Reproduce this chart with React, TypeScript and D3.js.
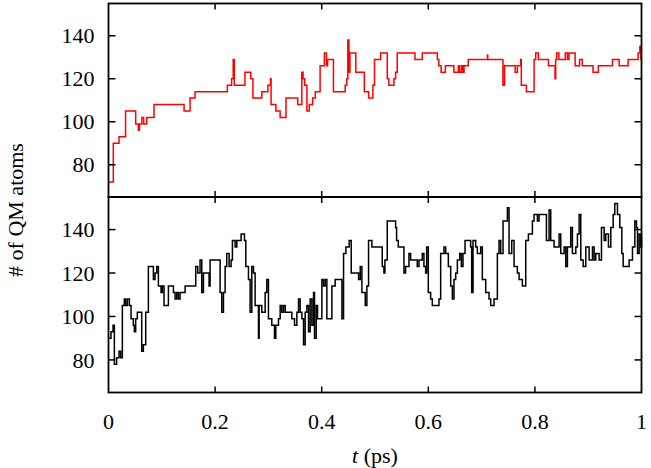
import { useRef, useEffect } from 'react';
import * as d3 from 'd3';

const WIDTH = 651;
const HEIGHT = 468;
const FONT = '"Liberation Serif", "Times New Roman", serif';
const RED = '#ff0000';

// Top panel (red): step change points, t in ps
const TOP_T = [
  0, 0.009, 0.0197, 0.032, 0.051, 0.056, 0.058, 0.0625, 0.066, 0.0717, 0.0854, 0.1418, 0.153, 0.1624,
  0.223, 0.231, 0.234, 0.236, 0.256, 0.267, 0.271, 0.2877, 0.299, 0.304, 0.305, 0.314, 0.322, 0.333,
  0.355, 0.3627, 0.365, 0.368, 0.3722, 0.3766, 0.383, 0.388, 0.397, 0.405, 0.409, 0.411, 0.422, 0.444,
  0.447, 0.449, 0.451, 0.453, 0.464, 0.48, 0.488, 0.496, 0.499, 0.5105, 0.523, 0.526, 0.5355, 0.5386,
  0.5417, 0.575, 0.5887, 0.617, 0.6197, 0.624, 0.632, 0.648, 0.6564, 0.659, 0.6627, 0.665, 0.667, 0.675,
  0.711, 0.7115, 0.74, 0.743, 0.763, 0.767, 0.7733, 0.7745, 0.784, 0.7985, 0.8016, 0.8066, 0.8254,
  0.8378, 0.839, 0.841, 0.845, 0.857, 0.861, 0.864, 0.8755, 0.8838, 0.8888, 0.909, 0.919, 0.9455, 0.958,
  0.975, 0.9937, 0.997, 0.999, 1,
];
const TOP_N = [
  72, 90, 93, 105, 99, 96, 99, 102, 99, 102, 108, 105, 111, 114,
  117, 120, 129, 117, 123, 120, 111, 114, 117, 120, 108, 105, 102, 111,
  108, 123, 120, 117, 105, 108, 111, 114, 126, 132, 126, 129, 114, 117,
  120, 138, 123, 132, 123, 114, 111, 117, 129, 132, 120, 117, 120, 123,
  132, 129, 132, 129, 126, 123, 126, 123, 126, 123, 126, 123, 126, 129,
  131, 129, 117, 126, 123, 126, 129, 117, 114, 129, 132, 129, 126,
  120, 129, 132, 129, 132, 129, 132, 126, 129, 126, 123, 126, 129, 126,
  129, 132, 135, 129, 129,
];

// Bottom panel (black)
const BOTTOM_T = [
  0, 0.0028, 0.0047, 0.0085, 0.011, 0.0153, 0.0197, 0.0228, 0.026, 0.0297, 0.0322, 0.0354, 0.0391,
  0.0423, 0.0466, 0.0485, 0.051, 0.0541, 0.0623, 0.0654, 0.0698, 0.0748, 0.0842, 0.0873, 0.0905,
  0.0936, 0.0986, 0.1011, 0.1042, 0.1124, 0.1218, 0.1249, 0.128, 0.1311, 0.1343, 0.1437, 0.1637,
  0.1675, 0.1718, 0.175, 0.1781, 0.1887, 0.1906, 0.2094, 0.2125, 0.2157, 0.2188, 0.2219, 0.2263,
  0.23, 0.2325, 0.2376, 0.2407, 0.2488, 0.2551, 0.2576, 0.2626, 0.2657, 0.2689, 0.272, 0.2751,
  0.2814, 0.2826, 0.2876, 0.2939, 0.297, 0.3001, 0.3064, 0.3114, 0.3139, 0.3189, 0.3221, 0.3252,
  0.3283, 0.3315, 0.344, 0.349, 0.3534, 0.3565, 0.3596, 0.3628, 0.3659, 0.369, 0.3722, 0.3753,
  0.3784, 0.3816, 0.3847, 0.3865, 0.3897, 0.3922, 0.4003, 0.4034, 0.4066, 0.4097, 0.4191, 0.4253,
  0.4379, 0.441, 0.4454, 0.4516, 0.4554, 0.4629, 0.4692, 0.4723, 0.4754, 0.4817, 0.4848, 0.4879,
  0.4942, 0.5074, 0.5136, 0.5167, 0.5186, 0.523, 0.5387, 0.5405, 0.5437, 0.5543, 0.5574, 0.5637,
  0.5668, 0.5793, 0.5825, 0.5887, 0.5918, 0.595, 0.5969, 0.6, 0.6044, 0.6075, 0.62, 0.6232, 0.6294,
  0.6326, 0.6376, 0.642, 0.6451, 0.6482, 0.6514, 0.6545, 0.6589, 0.662, 0.6651, 0.6689, 0.6795,
  0.6814, 0.6839, 0.6889, 0.692, 0.6983, 0.7014, 0.7077, 0.7139, 0.7171, 0.7233, 0.7296, 0.7327,
  0.7358, 0.7402, 0.7484, 0.7515, 0.7565, 0.7609, 0.7671, 0.7703, 0.7765, 0.7828, 0.7878, 0.7953,
  0.7984, 0.8047, 0.8078, 0.8216, 0.8266, 0.8297, 0.836, 0.8454, 0.8485, 0.8548, 0.8579, 0.861,
  0.8673, 0.8704, 0.8767, 0.8798, 0.883, 0.8861, 0.8905, 0.8955, 0.9017, 0.908, 0.9111, 0.9142,
  0.9205, 0.9249, 0.9299, 0.933, 0.938, 0.9424, 0.9468, 0.9499, 0.9549, 0.9593, 0.9631, 0.9656,
  0.9768, 0.9831, 0.9875, 0.9906, 0.9925, 0.9956, 0.9987, 1,
];
const BOTTOM_N = [
  90, 90, 93, 96, 78, 81, 84, 81, 105, 108, 105, 108, 105,
  99, 96, 93, 99, 102, 84, 87, 102, 123, 117, 120, 123,
  114, 111, 114, 105, 114, 111, 108, 111, 108, 111, 114, 123,
  120, 126, 111, 120, 114, 126, 111, 102, 111, 123, 129, 123,
  126, 135, 132, 135, 138, 135, 123, 117, 102, 123, 120, 105,
  90, 105, 102, 111, 117, 99, 96, 90, 96, 99, 105, 102,
  105, 102, 99, 96, 102, 108, 102, 99, 87, 102, 105, 93,
  108, 96, 111, 90, 105, 99, 117, 114, 117, 99, 114, 117,
  99, 129, 132, 135, 120, 120, 117, 123, 111, 105, 114, 135,
  132, 132, 123, 120, 126, 144, 141, 135, 132, 120, 123, 129,
  126, 123, 126, 129, 123, 120, 132, 111, 108, 105, 108, 129, 132,
  129, 123, 114, 108, 117, 120, 126, 129, 123, 129, 135, 132,
  111, 135, 132, 129, 132, 117, 111, 108, 105, 108, 129, 135,
  129, 144, 150, 129, 135, 123, 120, 117, 114, 135, 138, 144,
  147, 144, 147, 135, 149, 135, 132, 138, 129, 132, 123, 132,
  141, 129, 132, 138, 147, 126, 123, 132, 126, 132, 126, 129,
  126, 141, 135, 138, 132, 141, 147, 152, 147, 141, 129, 123,
  126, 132, 144, 141, 129, 138, 132, 138,
];

const X_TICKS = [0, 0.2, 0.4, 0.6, 0.8, 1];
const X_LABELS = ['0', '0.2', '0.4', '0.6', '0.8', '1'];
const Y_TICKS = [80, 100, 120, 140];
const Y_DOMAIN = [65, 155];

const LEFT = 108.5;
const RIGHT = 641.5;
const TOP = 3.5;
const MID = 197;
const BOTTOM = 392.5;

export default function App() {
  const svgRef = useRef<SVGSVGElement>(null);

  useEffect(() => {
    const svg = d3.select(svgRef.current);
    svg.selectAll('*').remove();

    const x = d3.scaleLinear().domain([0, 1]).range([LEFT, RIGHT]);
    const panels = [
      { t: TOP_T, n: TOP_N, color: RED, y0: TOP, y1: MID },
      { t: BOTTOM_T, n: BOTTOM_N, color: '#000', y0: MID, y1: BOTTOM },
    ];

    panels.forEach((p, pi) => {
      const y = d3.scaleLinear().domain(Y_DOMAIN).range([p.y1, p.y0]);
      const g = svg.append('g');

      // trace
      const pts = p.t.map((t, i) => [t, p.n[i]] as [number, number]);
      g.append('path')
        .datum(pts)
        .attr('d', d3.line<[number, number]>()
          .x((d) => x(d[0]))
          .y((d) => y(d[1]))
          .curve(d3.curveStepAfter))
        .attr('fill', 'none')
        .attr('stroke', p.color)
        .attr('stroke-width', 1.5)
        .attr('stroke-linejoin', 'miter');

      // y ticks, both sides, pointing inward
      for (const v of Y_TICKS) {
        const yy = y(v);
        g.append('line')
          .attr('x1', LEFT).attr('x2', LEFT + 7)
          .attr('y1', yy).attr('y2', yy)
          .attr('stroke', '#000').attr('stroke-width', 1.5);
        g.append('line')
          .attr('x1', RIGHT - 7).attr('x2', RIGHT)
          .attr('y1', yy).attr('y2', yy)
          .attr('stroke', '#000').attr('stroke-width', 1.5);
        g.append('text')
          .attr('x', LEFT - 14)
          .attr('y', yy)
          .attr('dy', '0.35em')
          .attr('text-anchor', 'end')
          .attr('font-family', FONT)
          .attr('font-size', 22)
          .text(String(v));
      }

      // x ticks top & bottom of each panel
      for (const t of X_TICKS.slice(1, -1)) {
        const xx = x(t);
        g.append('line')
          .attr('x1', xx).attr('x2', xx)
          .attr('y1', p.y0).attr('y2', p.y0 + 6)
          .attr('stroke', '#000').attr('stroke-width', 1.5);
        g.append('line')
          .attr('x1', xx).attr('x2', xx)
          .attr('y1', p.y1 - 6).attr('y2', p.y1)
          .attr('stroke', '#000').attr('stroke-width', 1.5);
      }

      g.append('rect')
        .attr('x', LEFT).attr('y', p.y0)
        .attr('width', RIGHT - LEFT).attr('height', p.y1 - p.y0)
        .attr('fill', 'none')
        .attr('stroke', '#000')
        .attr('stroke-width', 1.8);

      if (pi === 1) {
        X_TICKS.forEach((t, i) => {
          g.append('text')
            .attr('x', x(t))
            .attr('y', 429)
            .attr('text-anchor', 'middle')
            .attr('font-family', FONT)
            .attr('font-size', 22)
            .text(X_LABELS[i]);
        });
      }
    });

    // axis titles
    const xt = svg.append('text')
      .attr('x', (LEFT + RIGHT) / 2)
      .attr('y', 463)
      .attr('text-anchor', 'middle')
      .attr('font-family', FONT)
      .attr('font-size', 22);
    xt.append('tspan').attr('font-style', 'italic').text('t');
    xt.append('tspan').text(' (ps)');

    svg.append('text')
      .attr('transform', `translate(23, ${(TOP + BOTTOM) / 2 + 12}) rotate(-90)`)
      .attr('text-anchor', 'middle')
      .attr('font-family', FONT)
      .attr('font-size', 22)
      .text('# of QM atoms');
  }, []);

  return (
    <svg
      ref={svgRef}
      width={WIDTH}
      height={HEIGHT}
      style={{ position: 'absolute', left: 0, top: 0, background: '#fff' }}
    />
  );
}
